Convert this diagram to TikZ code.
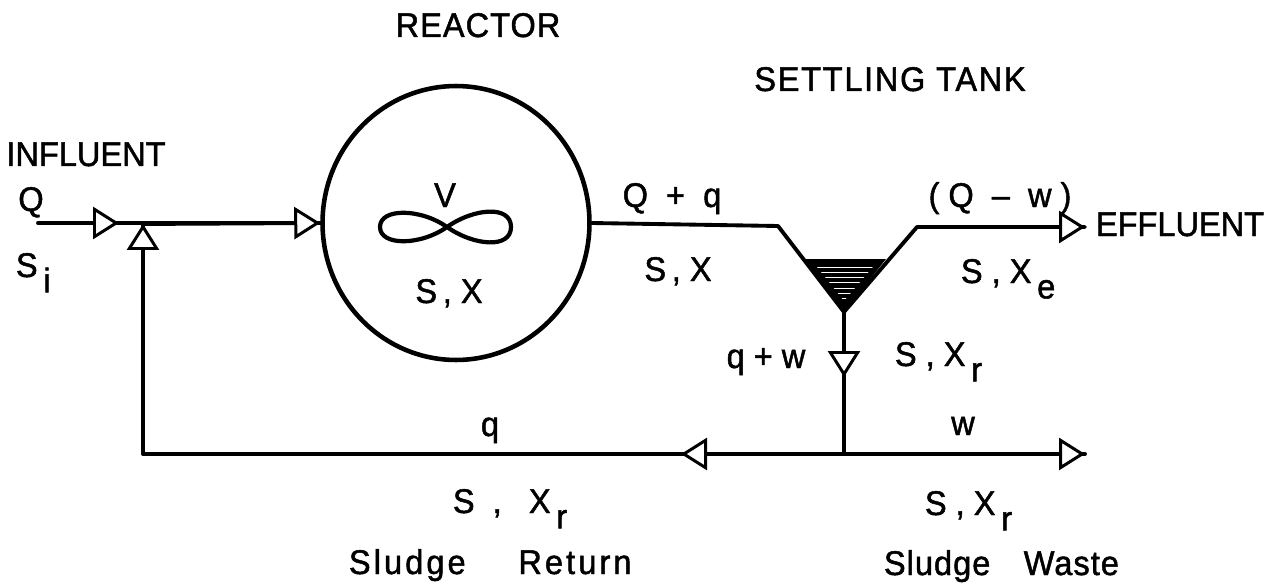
\documentclass[tikz,border=0pt]{standalone}
\usepackage{fontspec}
\setmainfont[FakeBold=1.4, FakeStretch=0.95]{Liberation Sans}
\usepackage{tikz}
\usetikzlibrary{arrows.meta, positioning, calc, patterns, shapes.geometric}
\newcommand{\lowsub}[1]{\raisebox{-0.45em}{\,#1}}
\begin{document}
\begin{tikzpicture}[x=0.02cm, y=-0.02cm, line width=2.2pt,
		flow/.style={-{Triangle[open, fill=white, length=5.2mm, width=6.4mm, line width=1.7pt]}},
		pipe/.style={line join=round, line cap=round},
		lbl/.style={inner sep=0pt, anchor=base, font=\fontsize{19.5}{22}\selectfont},
		lblw/.style={lbl, anchor=base west},
		wide/.style={lbl, font=\fontsize{19.5}{22}\selectfont\addfontfeature{LetterSpace=#1}}]
		
		% Frame of the page
		\useasboundingbox (0,0) rectangle (1273,584);
		
		% ---------------------------------------------------------
		% REACTOR
		% ---------------------------------------------------------
		\node[ellipse, draw, line width=2.6pt, minimum width=5.34cm, minimum height=5.48cm, inner sep=0pt] (reactor) at (456,223) {};
		% Mixer
		\draw[line width=2.4pt] (447,227) .. controls (420,208) and (380,208) .. (380,227)
			.. controls (380,246) and (420,246) .. (447,227)
			.. controls (474,208) and (511,205) .. (511,227)
			.. controls (511,249) and (474,246) .. (447,227) -- cycle;
		
		% ---------------------------------------------------------
		% Points on the lines
		% ---------------------------------------------------------
		\coordinate (in_start) at (38,223);
		\coordinate (in_tip) at (119,223);
		\coordinate (junction) at (143,224);
		\coordinate (tank_in) at (778,226);
		\coordinate (tank_left) at (804,259);
		\coordinate (tank_apex) at (844,312);
		\coordinate (tank_right) at (886,259);
		\coordinate (tank_out) at (917,227);
		\coordinate (eff_tip) at (1085,227);
		\coordinate (drop_tip) at (844,377);
		\coordinate (tee) at (844,454);
		\coordinate (ret_tip) at (681,454);
		\coordinate (corner) at (143,454);
		\coordinate (waste_tip) at (1085,454);
		
		% ---------------------------------------------------------
		% Settling tank
		% ---------------------------------------------------------
		\fill (tank_left) -- (tank_right) -- (tank_apex) -- cycle;
		\fill[pattern=horizontal lines, pattern color=white] ($(tank_left)+(9,3)$) -- ($(tank_right)+(-9,3)$) -- ($(tank_apex)+(0,-11)$) -- cycle;
		
		% ---------------------------------------------------------
		% Lines
		% ---------------------------------------------------------
		\draw[pipe] (reactor.east) -- (tank_in) -- (tank_apex) -- (tank_out) -- (eff_tip);
		\draw[pipe] (in_start) -- (reactor.west);
		\draw[pipe] (tank_apex) -- (tee);
		\draw[pipe] (tee) -- (waste_tip);
		\draw[pipe] (tee) -- (corner) -- (junction);
		
		% Arrows
		\draw[flow] (in_start) -- (in_tip);
		\draw[flow] (junction) -- (reactor.west);
		\draw[flow] (corner) -- (junction);
		\draw[flow] (tank_out) -- (eff_tip);
		\draw[flow] (tank_apex) -- (drop_tip);
		\draw[flow] (tee) -- (ret_tip);
		\draw[flow] (tee) -- (waste_tip);
		
		% ---------------------------------------------------------
		% Labels
		% ---------------------------------------------------------
		\node[wide=3] (reactor_text) at (478,37) {REACTOR};
		\node[wide=5] (tank_text) at (890,91) {SETTLING TANK};
		\node[lbl] (influent_text) at (86,166) {INFLUENT};
		\node[lbl] (q_in) at (31,211) {Q};
		\node[lblw] (s_i) at (14,277) {S\lowsub{i}};
		\node[lbl] (v_text) at (445,207) {V};
		\node[lbl] (sx_reactor) at (449,303) {S\,,\ X};
		\node[lbl] (qq_text) at (672,207) {Q \ + \ q};
		\node[lbl] (sx_out) at (678,281) {S\,,\ X};
		\node[lbl] (qw_text) at (1000,207) {( Q \ -- \ w )};
		\node[lblw] (eff_text) at (1094,236) {EFFLUENT};
		\node[lblw] (sx_e) at (959,283) {S , X\lowsub{e}};
		\node[lbl] (qpw_text) at (766,368) {q + w};
		\node[lblw] (sx_r) at (893,366) {S , X\lowsub{r}};
		\node[lbl] (w_text) at (963,435) {w};
		\node[lbl] (q_ret) at (490,436) {q};
		\node[lblw] (sx_ret) at (451,513) {S \ , \ \ X\lowsub{r}};
		\node[lblw] (sx_waste) at (923,515) {S , X\lowsub{r}};
		\node[wide=9, anchor=base west] (ret_text) at (347,574) {Sludge\hspace{30pt}Return};
		\node[wide=3, anchor=base west] (waste_text) at (882,575) {Sludge\hspace{19pt}Waste};
		
	\end{tikzpicture}
\end{document}
